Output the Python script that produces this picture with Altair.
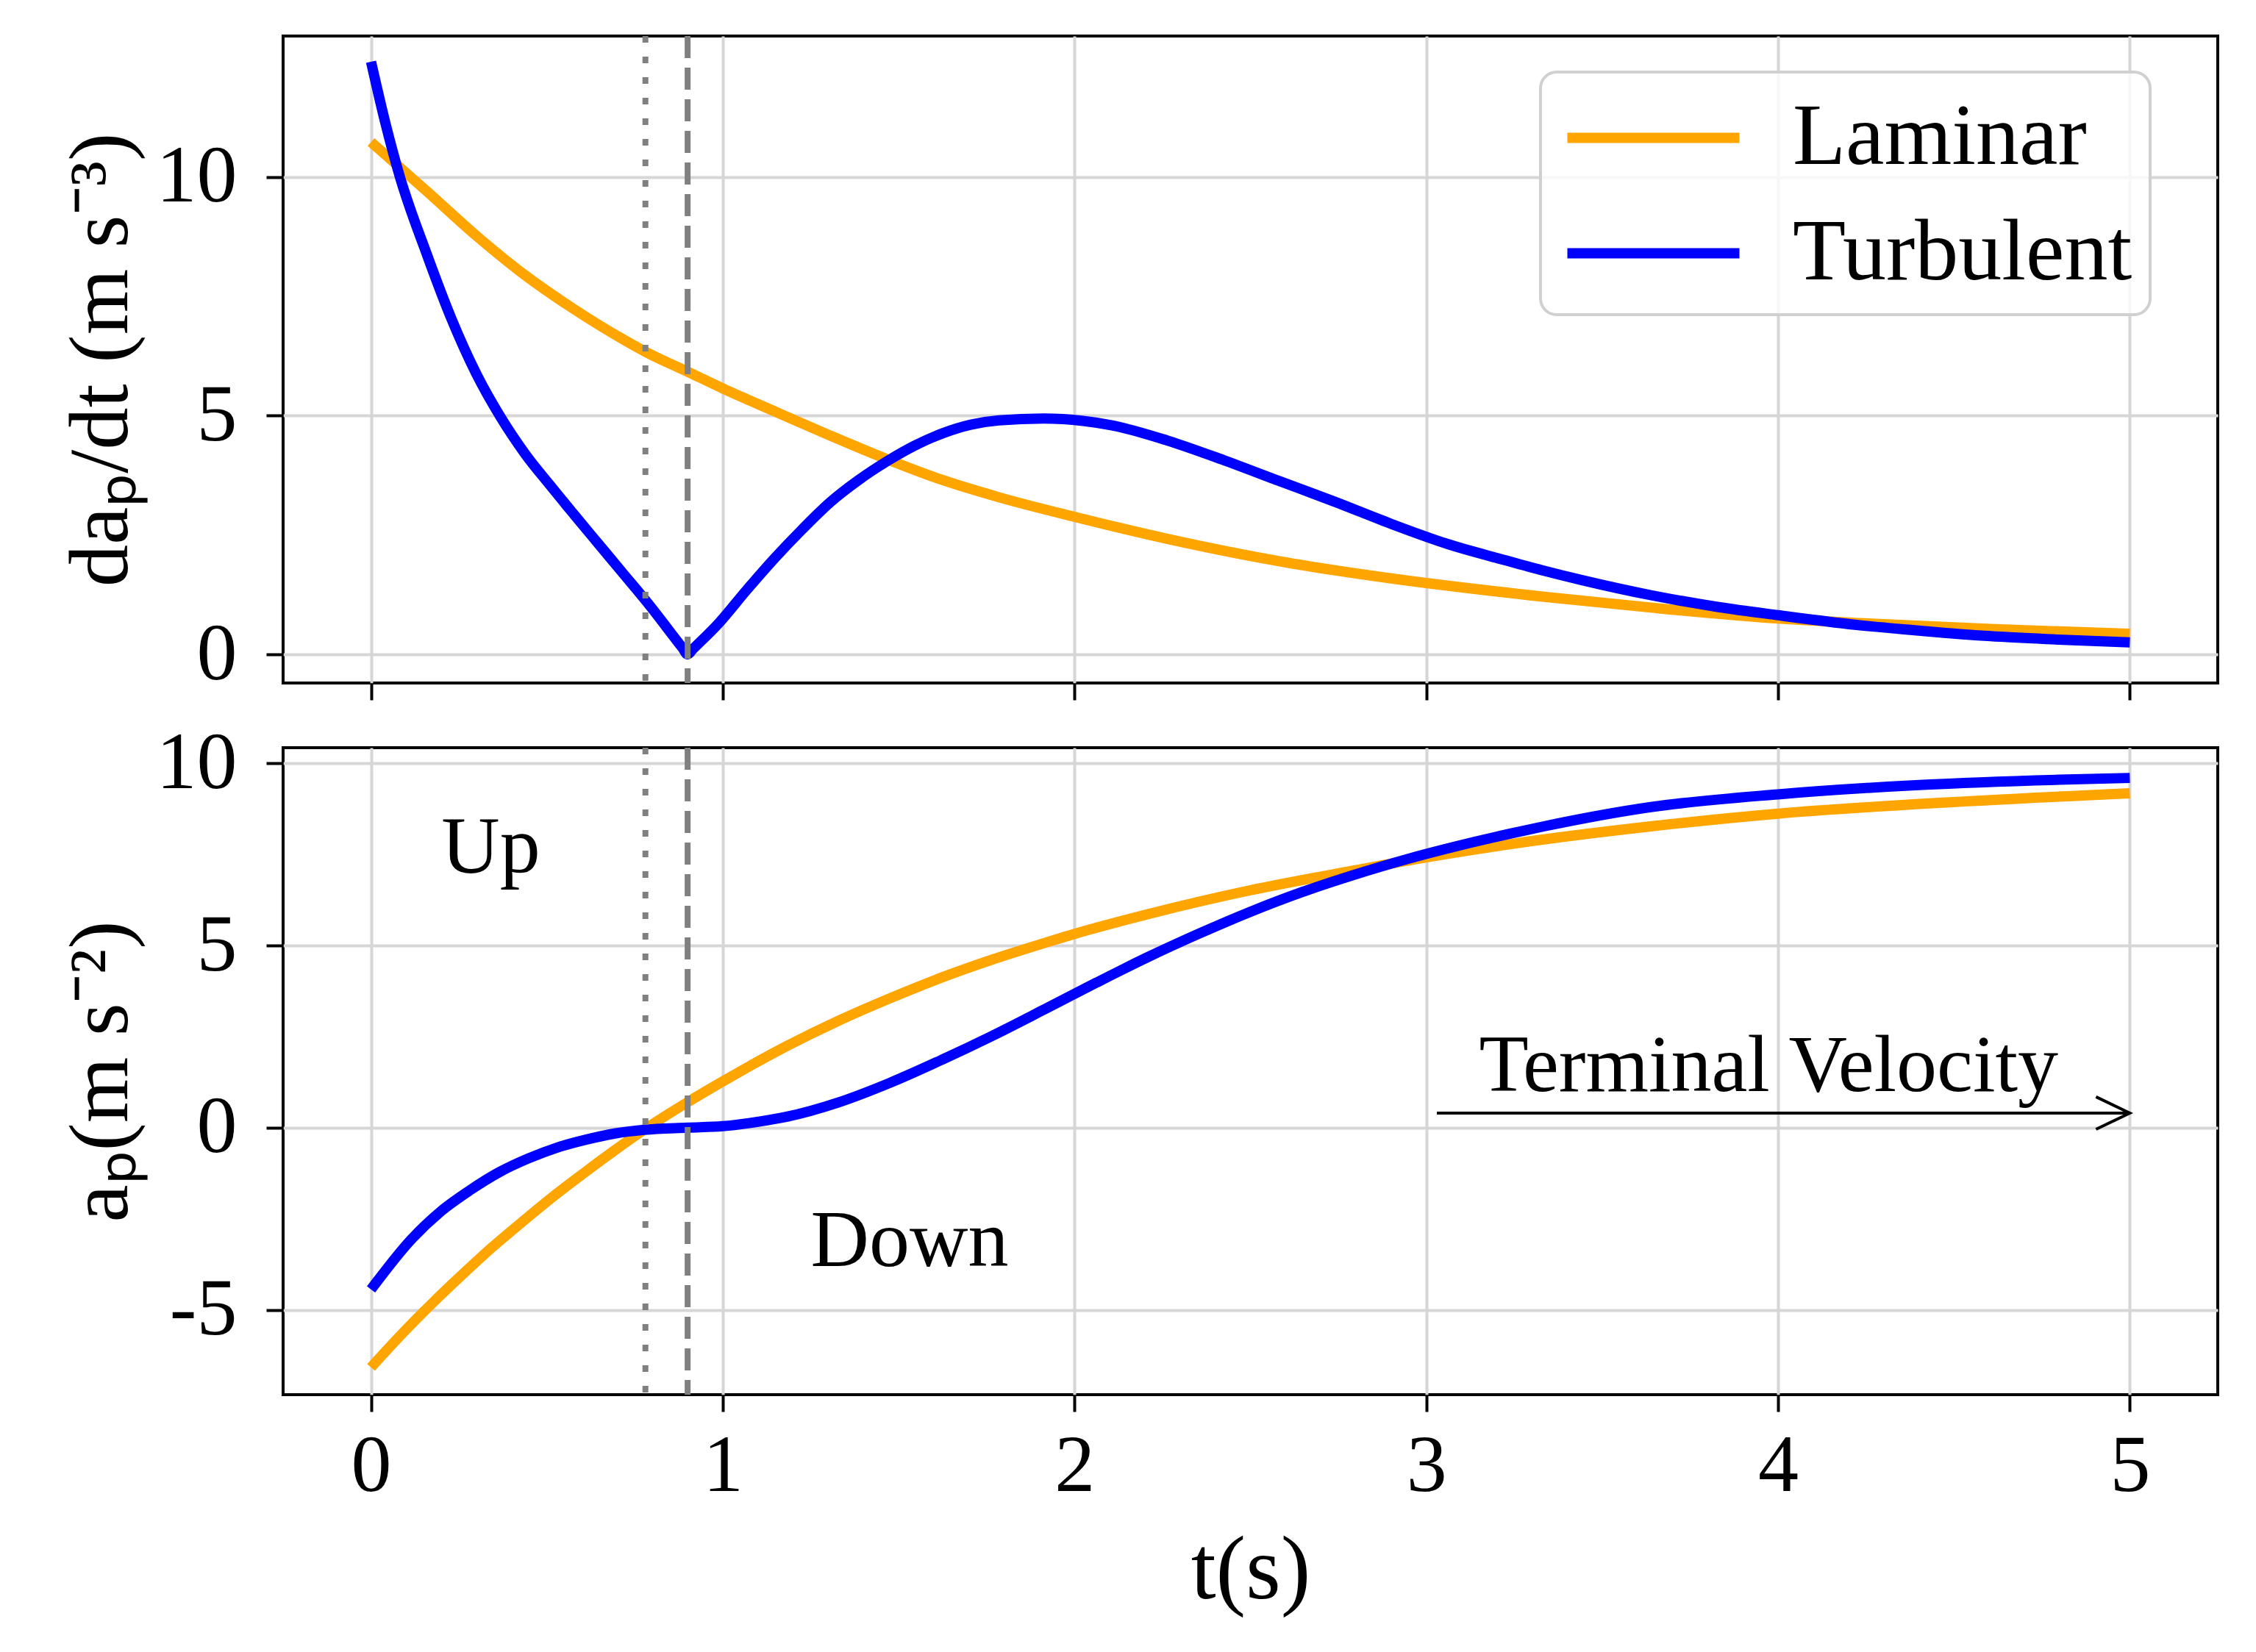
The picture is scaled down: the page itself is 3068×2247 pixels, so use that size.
import altair as alt
import pandas as pd

FONT = "Liberation Serif"

# ---------------- data ----------------
series_names = ["Laminar", "Turbulent"]
series_colors = ["#FFA500", "#0000FF"]

# top panel: d a_p / dt  (m s^-3)
lam_jerk_t = [0.0, 0.16, 0.299, 0.438, 0.577, 0.716, 0.782, 0.9, 1.0, 1.147, 1.306, 1.466,
              1.625, 1.785, 2.0, 2.263, 2.582, 2.901, 3.33, 3.638, 4.0, 4.218, 4.604, 5.0]
lam_jerk_v = [10.73, 9.69, 8.77, 7.94, 7.23, 6.60, 6.33, 5.92, 5.57, 5.09, 4.58, 4.09,
              3.65, 3.29, 2.88, 2.42, 1.95, 1.59, 1.21, 0.98, 0.75, 0.66, 0.53, 0.43]

turb_jerk_t = [0.0, 0.04, 0.08, 0.16, 0.229, 0.299, 0.369, 0.438, 0.508, 0.577, 0.647,
               0.716, 0.786, 0.885, 0.9, 0.915, 0.987, 1.067, 1.147, 1.226, 1.306, 1.386,
               1.466, 1.545, 1.625, 1.705, 1.785, 1.912, 2.024, 2.104, 2.263, 2.423, 2.582,
               2.742, 2.901, 3.061, 3.22, 3.33, 3.445, 3.638, 3.831, 4.0, 4.218, 4.411,
               4.604, 4.797, 5.0]
turb_jerk_v = [12.41, 11.15, 10.05, 8.35, 7.02, 5.88, 4.96, 4.2, 3.55, 2.93, 2.31,
               1.70, 1.08, 0.14, 0.0, 0.11, 0.64, 1.34, 2.01, 2.62, 3.19, 3.65,
               4.04, 4.37, 4.63, 4.81, 4.90, 4.94, 4.89, 4.80, 4.48, 4.07, 3.63,
               3.19, 2.73, 2.31, 1.98, 1.76, 1.55, 1.24, 0.99, 0.82, 0.62, 0.49,
               0.38, 0.31, 0.25]

# bottom panel: a_p  (m s^-2)
lam_acc_t = [0.0, 0.087, 0.173, 0.26, 0.346, 0.433, 0.519, 0.606, 0.693, 0.779, 0.9, 1.0,
             1.182, 1.328, 1.475, 1.622, 1.768, 1.915, 2.0, 2.208, 2.501, 2.795, 3.0,
             3.251, 3.638, 4.0, 4.411, 5.0]
lam_acc_v = [-6.58, -5.67, -4.83, -4.03, -3.27, -2.56, -1.88, -1.24, -0.62, -0.04, 0.70,
             1.27, 2.24, 2.93, 3.55, 4.12, 4.62, 5.07, 5.32, 5.86, 6.52, 7.06, 7.42,
             7.80, 8.27, 8.62, 8.89, 9.18]

turb_acc_t = [0.0, 0.116, 0.198, 0.281, 0.363, 0.446, 0.528, 0.611, 0.693, 0.776, 0.9,
              1.0, 1.106, 1.182, 1.328, 1.475, 1.622, 1.768, 1.915, 2.062, 2.208,
              2.355, 2.501, 2.648, 2.795, 2.941, 3.088, 3.234, 3.334, 3.638, 4.0, 4.411,
              4.8, 5.0]
turb_acc_v = [-4.44, -3.05, -2.3, -1.72, -1.23, -0.85, -0.55, -0.33, -0.16, -0.06, 0.0,
              0.04, 0.17, 0.30, 0.69, 1.23, 1.86, 2.53, 3.25, 3.98, 4.68,
              5.33, 5.93, 6.47, 6.94, 7.36, 7.73, 8.06, 8.27, 8.8, 9.15, 9.41,
              9.55, 9.6]

x_ticks = [0, 1, 2, 3, 4, 5]
top_y_ticks = [0, 5, 10]
bottom_y_ticks = [-5, 0, 5, 10]

x_domain = [-0.25, 5.25]
top_y_domain = [-0.6, 12.95]
bottom_y_domain = [-7.33, 10.43]

t_dotted = [0.78]
t_dashed = [0.90]

note_labels = ["Up", "Down", "Terminal Velocity"]
note_t = [0.2, 1.25, 3.15]
note_v = [7.0, -3.8, 1.0]

arrow_t_start = [3.03]
arrow_t_end = [5.0]
arrow_v = [0.4]

# ---------------- tables ----------------
df_top = pd.concat([
    pd.DataFrame({"t": lam_jerk_t, "v": lam_jerk_v, "series": series_names[0]}),
    pd.DataFrame({"t": turb_jerk_t, "v": turb_jerk_v, "series": series_names[1]}),
])
df_bot = pd.concat([
    pd.DataFrame({"t": lam_acc_t, "v": lam_acc_v, "series": series_names[0]}),
    pd.DataFrame({"t": turb_acc_t, "v": turb_acc_v, "series": series_names[1]}),
])
df_dotted = pd.DataFrame({"t": t_dotted})
df_dashed = pd.DataFrame({"t": t_dashed})
df_notes = pd.DataFrame({"t": note_t, "v": note_v, "label": note_labels})
df_arrow = pd.DataFrame({"t": arrow_t_start, "t2": arrow_t_end, "v": arrow_v})
df_head = pd.DataFrame({"t": arrow_t_end, "v": arrow_v})

W, H = 2631, 880
xscale = alt.Scale(domain=x_domain, nice=False, zero=False)
color_scale = alt.Scale(domain=series_names, range=series_colors)

x_top = alt.X("t:Q", scale=xscale,
              axis=alt.Axis(values=x_ticks, labels=False, title=None))
x_bot = alt.X("t:Q", scale=xscale,
              axis=alt.Axis(values=x_ticks, title="t(s)", labelPadding=20,
                            titlePadding=28, titleFontSize=122,
                            labelExpr="toString(datum.value)"))
y_top = alt.Y("v:Q", scale=alt.Scale(domain=top_y_domain, nice=False, zero=False),
              axis=alt.Axis(values=top_y_ticks, title="daₚ/dt (m s⁻³)",
                            labelExpr="toString(datum.value)"))
y_bot = alt.Y("v:Q", scale=alt.Scale(domain=bottom_y_domain, nice=False, zero=False),
              axis=alt.Axis(values=bottom_y_ticks, title="aₚ(m s⁻²)",
                            labelExpr="toString(datum.value)"))

legend = alt.Legend(title=None, orient="none", legendX=1710, legendY=49,
                    labelFont=FONT, labelFontSize=118, labelColor="black",
                    labelLimit=2000,
                    symbolType="M -2 0 L 2 0", symbolSize=117 * 117, symbolStrokeWidth=14,
                    symbolOffset=64, labelOffset=124, padding=24, rowPadding=32,
                    fillColor="rgba(255,255,255,0.8)", strokeColor="#d0d0d0",
                    cornerRadius=22)


def vlines(xenc):
    dotted = alt.Chart(df_dotted).mark_rule(color="#808080", strokeWidth=8,
                                            strokeDash=[9, 19]).encode(x=xenc)
    dashed = alt.Chart(df_dashed).mark_rule(color="#808080", strokeWidth=8,
                                            strokeDash=[30, 13]).encode(x=xenc)
    return dotted, dashed


top_lines = alt.Chart(df_top).mark_line(strokeWidth=14, interpolate="monotone").encode(
    x=x_top, y=y_top,
    color=alt.Color("series:N", scale=color_scale, legend=legend),
)
td, tds = vlines(x_top)
top = alt.layer(top_lines, td, tds).properties(width=W, height=H)

bot_lines = alt.Chart(df_bot).mark_line(strokeWidth=14, interpolate="monotone").encode(
    x=x_bot, y=y_bot,
    color=alt.Color("series:N", scale=color_scale, legend=None),
)
bd, bds = vlines(x_bot)
notes = alt.Chart(df_notes).mark_text(align="left", baseline="alphabetic", font=FONT,
                                      fontSize=110, color="black").encode(
    x=x_bot, y=y_bot, text="label:N")
arrow = alt.Chart(df_arrow).mark_rule(color="black", strokeWidth=4).encode(
    x=x_bot, x2="t2:Q", y=y_bot)
head = alt.Chart(df_head).mark_point(shape="M -1 -0.48 L 0 0 L -1 0.48", size=92 * 92,
                                     filled=False, stroke="black", strokeWidth=4,
                                     opacity=1).encode(x=x_bot, y=y_bot)
bottom = alt.layer(bot_lines, bd, bds, notes, arrow, head).properties(width=W, height=H)

chart = alt.vconcat(top, bottom, spacing=25).resolve_scale(
    color="independent"
).properties(
    padding={"left": 70, "top": 35, "right": 10, "bottom": 10}
).configure_view(
    stroke="black", strokeWidth=4
).configure_axis(
    labelFont=FONT, titleFont=FONT, labelFontSize=110, titleFontSize=115,
    labelColor="black", titleColor="black", titleFontWeight="normal",
    tickColor="black", tickWidth=4, tickSize=23, domain=False,
    gridColor="#d6d6d6", gridWidth=4, labelPadding=40, titlePadding=16,
).configure_legend(strokeWidth=4)

chart.save("out.html", embed_options={"renderer": "svg", "actions": False})
